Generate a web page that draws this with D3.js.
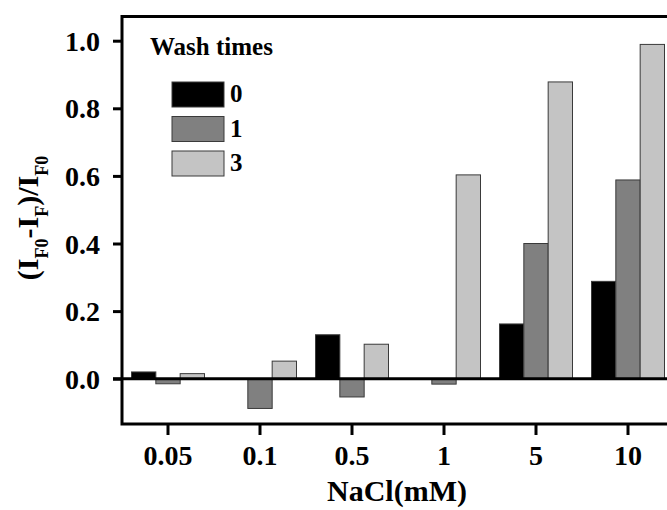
<!DOCTYPE html>
<html>
<head>
<meta charset="utf-8">
<script src="https://cdn.jsdelivr.net/npm/d3@7"></script>
<style>
  body { margin: 0; background: #fff; }
  svg text { font-family: "Liberation Serif", "Times New Roman", serif; font-weight: bold; fill: #000; }
</style>
</head>
<body>
<div id="chart"></div>
<script>
// data
const categories = ['0.05', '0.1', '0.5', '1', '5', '10'];
const washTimes = ['0', '1', '3'];
const wash0 = [0.020, 0.000, 0.130, 0.000, 0.162, 0.288];
const wash1 = [-0.015, -0.088, -0.054, -0.016, 0.400, 0.588];
const wash3 = [0.015, 0.052, 0.102, 0.603, 0.878, 0.989];
const yTicks = [0, 0.2, 0.4, 0.6, 0.8, 1.0];

const seriesValues = [wash0, wash1, wash3];
const colors = ['#000000', '#808080', '#c4c4c4'];

const width = 667, height = 510;
const plotLeft = 122, plotTop = 16.5, plotRight = 674, plotBottom = 424;

const svg = d3.select('#chart').append('svg')
  .attr('width', width)
  .attr('height', height);

const x = d3.scaleBand().domain(categories).range([plotLeft, plotRight]).padding(0);
const xSub = d3.scaleBand().domain(washTimes).range([9.5, x.bandwidth() - 9.5]).padding(0);
const y = d3.scaleLinear().domain([-0.134, 1.0716]).range([plotBottom, plotTop]);

// bars
const rows = [];
seriesValues.forEach(function (vals, s) {
  vals.forEach(function (v, i) {
    if (v !== 0) rows.push({ cat: categories[i], wash: washTimes[s], v: v, s: s });
  });
});

svg.append('g')
  .selectAll('rect')
  .data(rows)
  .enter()
  .append('rect')
  .attr('x', d => x(d.cat) + xSub(d.wash))
  .attr('width', xSub.bandwidth())
  .attr('y', d => y(Math.max(0, d.v)))
  .attr('height', d => Math.abs(y(d.v) - y(0)))
  .attr('fill', d => colors[d.s])
  .attr('stroke', '#3a3a3a')
  .attr('stroke-width', 1);

// zero line
svg.append('line')
  .attr('x1', plotLeft - 9).attr('x2', width)
  .attr('y1', y(0)).attr('y2', y(0))
  .attr('stroke', '#000').attr('stroke-width', 3);

// frame
svg.append('rect')
  .attr('x', plotLeft).attr('y', plotTop)
  .attr('width', plotRight - plotLeft).attr('height', plotBottom - plotTop)
  .attr('fill', 'none').attr('stroke', '#000').attr('stroke-width', 3);

// axes
const yAxis = svg.append('g')
  .attr('transform', 'translate(' + plotLeft + ',0)')
  .call(d3.axisLeft(y).tickValues(yTicks).tickFormat(d3.format('.1f')).tickSize(9).tickPadding(13));
yAxis.select('.domain').remove();
yAxis.selectAll('line').attr('stroke', '#000').attr('stroke-width', 3);
yAxis.selectAll('text').style('font-size', '28px').attr('dy', '0.34em');

const xAxis = svg.append('g')
  .attr('transform', 'translate(0,' + plotBottom + ')')
  .call(d3.axisBottom(x).tickSize(11).tickPadding(10));
xAxis.select('.domain').remove();
xAxis.selectAll('line').attr('stroke', '#000').attr('stroke-width', 3);
xAxis.selectAll('text').style('font-size', '28px');

// axis titles
svg.append('text')
  .attr('x', 397).attr('y', 501)
  .attr('text-anchor', 'middle')
  .style('font-size', '30px')
  .text('NaCl(mM)');

const yt = svg.append('text')
  .attr('transform', 'translate(38,218) rotate(-90)')
  .attr('text-anchor', 'middle')
  .style('font-size', '30px');
yt.append('tspan').text('(I');
yt.append('tspan').attr('baseline-shift', 'sub').style('font-size', '18px').text('F0');
yt.append('tspan').text('-I');
yt.append('tspan').attr('baseline-shift', 'sub').style('font-size', '18px').text('F');
yt.append('tspan').text(')/I');
yt.append('tspan').attr('baseline-shift', 'sub').style('font-size', '18px').text('F0');

// legend
const legend = svg.append('g');
legend.append('text')
  .attr('x', 150).attr('y', 55)
  .style('font-size', '25px')
  .text('Wash times');

const items = legend.selectAll('g.item')
  .data(washTimes)
  .enter()
  .append('g')
  .attr('class', 'item')
  .attr('transform', (d, i) => 'translate(172,' + (82 + i * 34.5) + ')');
items.append('rect')
  .attr('width', 52).attr('height', 25)
  .attr('fill', (d, i) => colors[i])
  .attr('stroke', '#3a3a3a').attr('stroke-width', 1);
items.append('text')
  .attr('x', 58).attr('y', 20)
  .style('font-size', '25px')
  .text(d => d);
</script>
</body>
</html>
